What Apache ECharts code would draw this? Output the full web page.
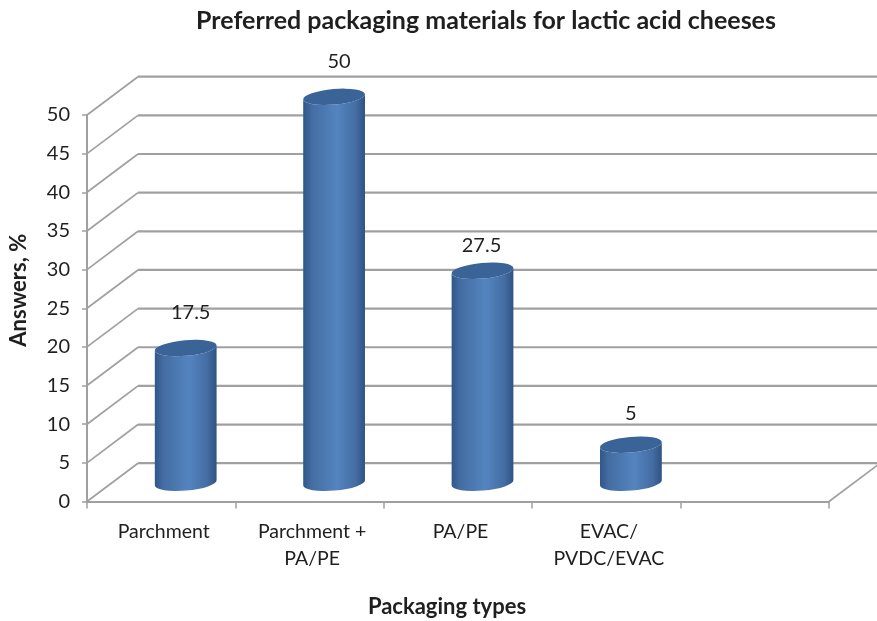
<!DOCTYPE html>
<html>
<head>
<meta charset="utf-8">
<style>html,body{margin:0;padding:0;background:#fff}#chart{width:877px;height:621px}</style>
<script src="https://cdn.jsdelivr.net/npm/echarts@6/dist/echarts.min.js"></script>
</head>
<body>
<div id="chart"></div>
<script>
// Preferred packaging materials, share of answers per packaging type
const categories = ['Parchment', 'Parchment +\nPA/PE', 'PA/PE', 'EVAC/\nPVDC/EVAC', ''];
const answers = [17.5, 50, 27.5, 5];
const valueTicks = [0, 5, 10, 15, 20, 25, 30, 35, 40, 45, 50];

// Projection of the depth axis on screen, and the cylinder proportions
const DEPTH_X = 51, DEPTH_Y = -38.3;
const RX = 31, RY = 7.8, TILT = -5 * Math.PI / 180;
// Hand-placed lift of each value label above its cylinder top
const labelLift = [36, 35, 25, 31];
const labelShift = [5, 5, -1, 0];

const font = 'Lato, "Open Sans", sans-serif';
const ink = '#1f1f1f';
const wallColor = '#a0a0a0';

function renderWalls(params, api) {
  const p = api.coord([0, api.value(0)]);
  const left = api.coord([0, 0])[0] - api.size([1, 0])[0] / 2;
  const right = left + api.size([1, 0])[0] * categories.length;
  const bx = left + DEPTH_X, by = p[1] + DEPTH_Y;
  const style = { stroke: wallColor, lineWidth: 2.2, fill: null };
  const children = [
    { type: 'line', shape: { x1: left, y1: p[1], x2: bx, y2: by }, style: { stroke: wallColor, lineWidth: 1.7 } },
    { type: 'line', shape: { x1: bx, y1: by, x2: right + DEPTH_X, y2: by }, style }
  ];
  if (api.value(0) === 0) {
    children.push({ type: 'line', shape: { x1: right, y1: p[1], x2: right + DEPTH_X, y2: by }, style: { stroke: wallColor, lineWidth: 1.7 } });
  }
  return { type: 'group', children };
}

function renderCylinder(params, api) {
  const i = api.value(0);
  const top = api.coord([i, api.value(1)]);
  const base = api.coord([i, 0]);
  const cx = top[0] + DEPTH_X / 2 - 1;
  const ty = top[1] + DEPTH_Y / 2 + 1;
  const by = base[1] + DEPTH_Y / 2 + 0.5;
  const ex = RX * Math.cos(TILT), ey = RX * Math.sin(TILT);
  const deg = TILT * 180 / Math.PI;
  const body =
    `M${cx - ex} ${ty - ey} L${cx - ex} ${by - ey} ` +
    `A${RX} ${RY} ${deg} 0 0 ${cx + ex} ${by + ey} ` +
    `L${cx + ex} ${ty + ey} ` +
    `A${RX} ${RY} ${deg} 0 1 ${cx - ex} ${ty - ey} Z`;
  const capPath =
    `M${cx - ex} ${ty - ey} A${RX} ${RY} ${deg} 1 1 ${cx + ex} ${ty + ey} ` +
    `A${RX} ${RY} ${deg} 1 1 ${cx - ex} ${ty - ey} Z`;
  return {
    type: 'group',
    children: [
      {
        type: 'path',
        shape: { pathData: body },
        style: {
          fill: new echarts.graphic.LinearGradient(0, 0, 1, 0, [
            { offset: 0, color: '#305688' },
            { offset: 0.14, color: '#446da3' },
            { offset: 0.55, color: '#5484bf' },
            { offset: 0.85, color: '#446da3' },
            { offset: 1, color: '#2f5283' }
          ])
        }
      },
      { type: 'path', shape: { pathData: capPath }, style: { fill: '#3a6397' } },
      {
        type: 'text',
        style: {
          x: cx + labelShift[i], y: ty - labelLift[i],
          text: String(api.value(1)),
          fill: ink, font: `20px ${font}`, align: 'center', verticalAlign: 'middle'
        }
      }
    ]
  };
}

const chart = echarts.init(document.getElementById('chart'));
chart.setOption({
  animation: false,
  backgroundColor: '#fff',
  title: {
    text: 'Preferred packaging materials for lactic acid cheeses',
    left: 481, top: 3, textAlign: 'center',
    textStyle: { fontFamily: font, fontSize: 25, fontWeight: 'bold', color: ink }
  },
  grid: { left: 87, right: 48, top: 115, bottom: 119.5, outerBoundsMode: 'none' },
  xAxis: {
    type: 'category',
    data: categories,
    name: 'Packaging types',
    nameLocation: 'middle',
    nameGap: 94,
    nameTextStyle: { fontFamily: font, fontSize: 22, fontWeight: 'bold', color: ink, padding: [0, 22, 0, 0] },
    axisLine: { lineStyle: { color: wallColor, width: 2 } },
    axisTick: { show: true, length: 7, alignWithLabel: false, lineStyle: { color: wallColor, width: 1.5 } },
    axisLabel: { fontFamily: font, fontSize: 19.5, color: ink, margin: 17, lineHeight: 27, interval: 0, padding: [0, 0, 0, 5] }
  },
  yAxis: {
    type: 'value',
    min: 0, max: 50, interval: 5,
    name: 'Answers, %',
    nameLocation: 'middle',
    nameGap: 57,
    nameTextStyle: { fontFamily: font, fontSize: 22, fontWeight: 'bold', color: ink, padding: [0, 0, 0, 36] },
    axisLine: { show: true, lineStyle: { color: wallColor, width: 2 } },
    axisTick: { show: true, length: 5, lineStyle: { color: wallColor, width: 1.5 } },
    axisLabel: { fontFamily: font, fontSize: 20, color: ink, margin: 17 },
    splitLine: { show: false }
  },
  series: [
    {
      type: 'custom',
      renderItem: renderWalls,
      data: valueTicks.map(v => [v]),
      encode: { y: 0 },
      clip: false,
      silent: true,
      z: 1
    },
    {
      type: 'custom',
      renderItem: renderCylinder,
      data: answers.map((v, i) => [i, v]),
      encode: { x: 0, y: 1 },
      clip: false,
      z: 3
    }
  ]
});
</script>
</body>
</html>
